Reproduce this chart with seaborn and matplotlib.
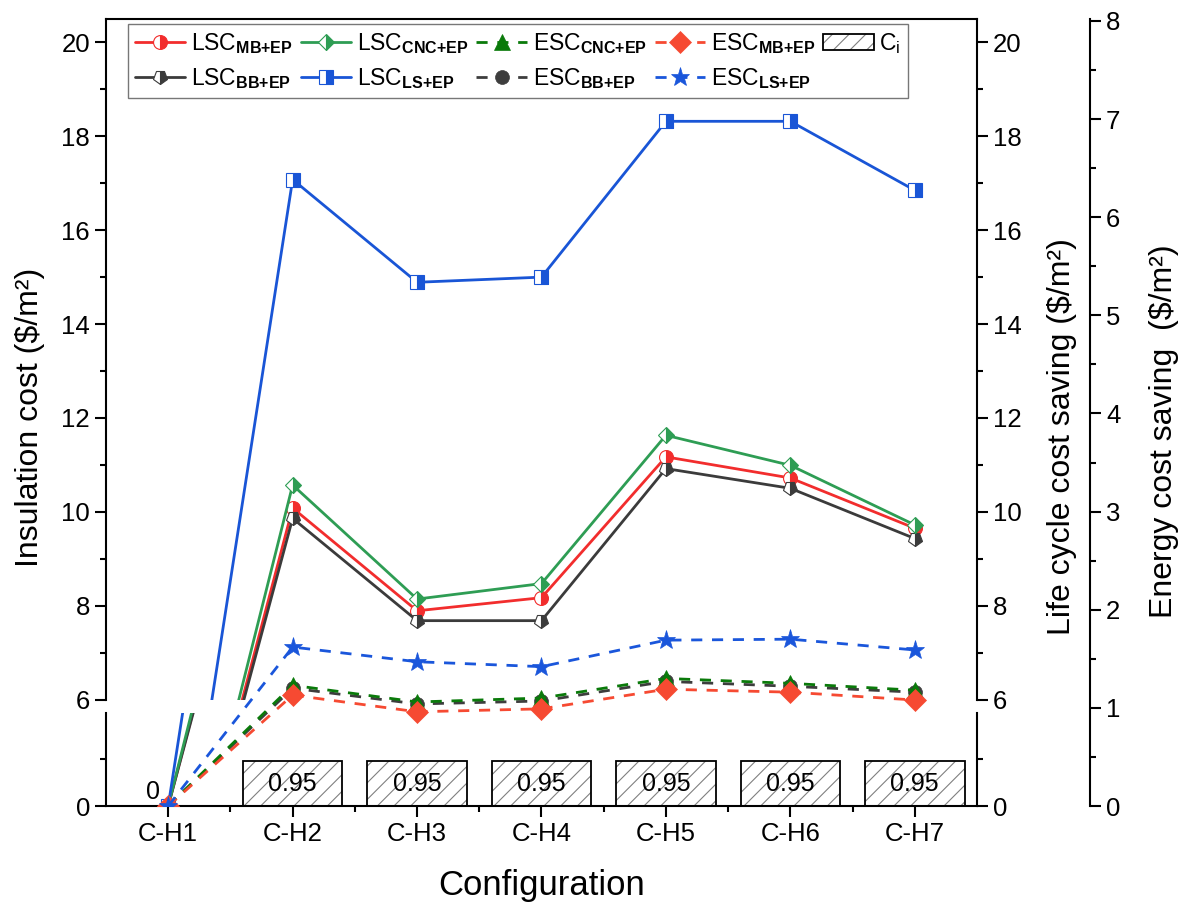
import numpy as np
import matplotlib
matplotlib.use('Agg')
import matplotlib.pyplot as plt
from matplotlib.ticker import MultipleLocator, FixedLocator
from matplotlib.markers import MarkerStyle
from matplotlib.transforms import Affine2D
from matplotlib.legend_handler import HandlerTuple
import seaborn as sns

configs = ['C-H1', 'C-H2', 'C-H3', 'C-H4', 'C-H5', 'C-H6', 'C-H7']
ci = [0, 0.95, 0.95, 0.95, 0.95, 0.95, 0.95]

# life cycle cost saving ($/m2)
lsc_mb = [0, 10.08, 7.89, 8.17, 11.17, 10.72, 9.65]
lsc_cnc = [0, 10.57, 8.14, 8.47, 11.63, 10.99, 9.72]
lsc_bb = [0, 9.86, 7.68, 7.68, 10.92, 10.50, 9.43]
lsc_ls = [0, 17.08, 14.89, 15.00, 18.32, 18.32, 16.85]

# energy cost saving ($/m2)
esc_cnc = [0, 1.23, 1.06, 1.10, 1.30, 1.25, 1.18]
esc_mb = [0, 1.13, 0.96, 0.99, 1.19, 1.16, 1.08]
esc_bb = [0, 1.20, 1.04, 1.07, 1.27, 1.22, 1.16]
esc_ls = [0, 1.62, 1.47, 1.42, 1.69, 1.70, 1.59]

sns.set_style('ticks')
plt.rcParams['font.family'] = ['Liberation Sans', 'DejaVu Sans']
plt.rcParams['mathtext.fontset'] = 'custom'
plt.rcParams['mathtext.rm'] = 'Liberation Sans'
plt.rcParams['mathtext.bf'] = 'Liberation Sans:bold'
plt.rcParams['axes.linewidth'] = 1.5
plt.rcParams['hatch.linewidth'] = 0.8
for k in ('text.color', 'axes.labelcolor', 'xtick.color', 'ytick.color', 'axes.edgecolor'):
    plt.rcParams[k] = 'black'

W, H = 1188, 907
fig = plt.figure(figsize=(W / 100, H / 100), dpi=100)


def box(x0, y0, x1, y1):
    return [x0 / W, 1 - y1 / H, (x1 - x0) / W, (y1 - y0) / H]


ax_top = fig.add_axes(box(106, 19, 977, 699.5))
ax_bot = fig.add_axes(box(106, 713, 977, 806))
ax_esc = fig.add_axes(box(106, 19, 977, 806))

x = np.arange(len(configs))

# insulation cost bars
sns.barplot(x=configs, y=ci, ax=ax_bot, color='white', saturation=1, width=0.8,
            edgecolor='#808080', linewidth=0, hatch='//', errorbar=None)
sns.barplot(x=configs, y=ci, ax=ax_bot, color='black', fill=False, width=0.8,
            linewidth=1.3, errorbar=None)
for i, v in enumerate(ci):
    if v == 0:
        ax_bot.annotate(f'{v:g}', xy=(i, v), xytext=(-11, 10), textcoords='offset points',
                        ha='center', va='center', fontsize=18)
    else:
        ax_bot.text(i, v / 2, f'{v:g}', ha='center', va='center', fontsize=18)

pent = MarkerStyle('p', fillstyle='left', transform=Affine2D().rotate_deg(180))
lsc_styles = [
    (lsc_mb, '#f22d2d', 'o', r'LSC$_{\mathbf{MB{+}EP}}$'),
    (lsc_bb, '#3b3b3b', pent, r'LSC$_{\mathbf{BB{+}EP}}$'),
    (lsc_cnc, '#2e9d54', 'D', r'LSC$_{\mathbf{CNC{+}EP}}$'),
    (lsc_ls, '#1955d6', 's', r'LSC$_{\mathbf{LS{+}EP}}$'),
]
lsc_handles = []
for vals, col, mk, lab in lsc_styles:
    for ax in (ax_top, ax_bot):
        kw = dict(color=col, lw=2, marker=mk, markersize=10 if mk != 'D' else 8,
                  markerfacecolor=col, markerfacecoloralt='white',
                  markeredgecolor=col, markeredgewidth=0.8)
        if not isinstance(mk, MarkerStyle):
            kw['fillstyle'] = 'right'
        ln, = ax.plot(x, vals, label=lab, **kw)
    lsc_handles.append(ln)

esc_styles = [
    (esc_bb, '#3d3d3d', 'o', 10, r'ESC$_{\mathbf{BB{+}EP}}$'),
    (esc_cnc, '#0a7a0a', '^', 11, r'ESC$_{\mathbf{CNC{+}EP}}$'),
    (esc_mb, '#f64a32', 'D', 11, r'ESC$_{\mathbf{MB{+}EP}}$'),
    (esc_ls, '#1a56db', '*', 14, r'ESC$_{\mathbf{LS{+}EP}}$'),
]
esc_handles = {}
for vals, col, mk, ms, lab in esc_styles:
    ln, = ax_esc.plot(x, vals, color=col, lw=2, ls=(0, (4, 3.5)), marker=mk,
                      markersize=ms, markerfacecolor=col, markeredgecolor=col,
                      markeredgewidth=0.5, label=lab)
    esc_handles[lab] = ln

# axes limits and ticks
for ax in (ax_top, ax_bot, ax_esc):
    ax.set_xlim(-0.5, 6.5)
    ax.set_facecolor('none')

TS = 18.5
ax_top.set_ylim(6, 20.5)
ax_top.yaxis.set_major_locator(MultipleLocator(2))
ax_top.yaxis.set_minor_locator(MultipleLocator(1))
ax_top.spines['bottom'].set_visible(False)
ax_top.tick_params(axis='x', which='both', bottom=False, labelbottom=False)
ax_top.tick_params(axis='y', which='both', direction='out', left=True, right=True,
                   labelleft=True, labelright=True, labelsize=TS, width=1.5)
ax_top.tick_params(axis='y', which='major', length=8)
ax_top.tick_params(axis='y', which='minor', length=4.5)

ax_bot.set_ylim(0, 1.98)
ax_bot.yaxis.set_major_locator(FixedLocator([0]))
ax_bot.yaxis.set_minor_locator(FixedLocator([1]))
ax_bot.spines['top'].set_visible(False)
ax_bot.set_xticks(x)
ax_bot.set_xticklabels(configs)
ax_bot.xaxis.set_minor_locator(FixedLocator(x[:-1] + 0.5))
ax_bot.tick_params(axis='both', which='both', direction='out', width=1.5, labelsize=TS)
ax_bot.tick_params(axis='y', which='both', left=True, right=True, labelleft=True, labelright=True)
ax_bot.tick_params(which='major', length=8)
ax_bot.tick_params(which='minor', length=4.5)
ax_bot.set_ylabel('')
ax_bot.set_xlabel('Configuration', fontsize=25)
ax_bot.xaxis.set_label_coords(0.5, -0.85)
ax_bot.xaxis.label.set_va('center')

ax_esc.set_ylim(0, 8.02)
for s in ('left', 'top', 'bottom'):
    ax_esc.spines[s].set_visible(False)
ax_esc.spines['right'].set_position(('outward', 113 * 0.72))
ax_esc.yaxis.tick_right()
ax_esc.yaxis.set_major_locator(MultipleLocator(1))
ax_esc.yaxis.set_minor_locator(MultipleLocator(0.5))
ax_esc.tick_params(axis='x', which='both', bottom=False, labelbottom=False)
ax_esc.tick_params(axis='y', which='both', direction='out', width=1.5, labelsize=TS)
ax_esc.tick_params(axis='y', which='major', length=8)
ax_esc.tick_params(axis='y', which='minor', length=4.5)
ax_esc.set_ylabel('Energy cost saving  (\\$/m²)', fontsize=23)
ax_esc.yaxis.set_label_position('right')
ax_esc.yaxis.set_label_coords(1.197, (806 - 431) / 787)

fig.text(30 / W, 1 - 417 / H, 'Insulation cost (\\$/m²)', rotation=90,
         ha='center', va='center', fontsize=23)
fig.text(1062 / W, 1 - 437 / H, 'Life cycle cost saving (\\$/m²)', rotation=90,
         ha='center', va='center', fontsize=23)

# legend
bar_hatch = ax_bot.patches[1]
bar_edge = ax_bot.patches[len(configs) + 1]
handles = [lsc_handles[0], lsc_handles[1], lsc_handles[2], lsc_handles[3],
           esc_handles[r'ESC$_{\mathbf{CNC{+}EP}}$'], esc_handles[r'ESC$_{\mathbf{BB{+}EP}}$'],
           esc_handles[r'ESC$_{\mathbf{MB{+}EP}}$'], esc_handles[r'ESC$_{\mathbf{LS{+}EP}}$'],
           (bar_hatch, bar_edge)]
labels = [lsc_styles[0][3], lsc_styles[1][3], lsc_styles[2][3], lsc_styles[3][3],
          r'ESC$_{\mathbf{CNC{+}EP}}$', r'ESC$_{\mathbf{BB{+}EP}}$',
          r'ESC$_{\mathbf{MB{+}EP}}$', r'ESC$_{\mathbf{LS{+}EP}}$', r'C$_{\mathregular{i}}$']
leg = ax_esc.legend(handles, labels, ncol=5, loc='upper left', bbox_to_anchor=(0.025, 0.9936),
                    fontsize=16.5, frameon=True, fancybox=False, edgecolor='#555555',
                    handlelength=2.2, handletextpad=0.25, columnspacing=0.35,
                    borderpad=0.3, labelspacing=0.45, borderaxespad=0,
                    handler_map={tuple: HandlerTuple(ndivide=1)})
leg.get_frame().set_linewidth(1.0)

fig.savefig('out.png', dpi=100)
